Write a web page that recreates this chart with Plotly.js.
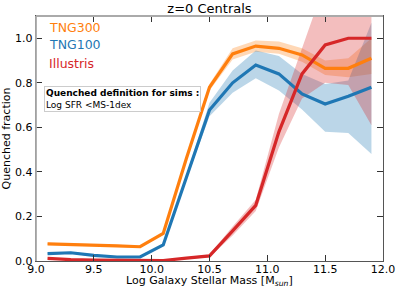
<!DOCTYPE html>
<html>
<head>
<meta charset="utf-8">
<script src="https://cdn.plot.ly/plotly-3.0.1.min.js"></script>
<style>
html,body{margin:0;padding:0;background:#fff;}
#chart{width:399px;height:291px;}
</style>
</head>
<body>
<div id="chart"></div>
<script>
// Bin centres (log stellar mass)
var mass = [9.1, 9.3, 9.5, 9.7, 9.9, 10.1, 10.3, 10.5, 10.7, 10.9, 11.1, 11.3, 11.5, 11.7, 11.9];

// TNG300
var tng300    = [0.077, 0.075, 0.073, 0.068, 0.064, 0.124, 0.46, 0.78, 0.93, 0.965, 0.955, 0.925, 0.865, 0.865, 0.91];
var tng300Lo  = [0.072, 0.070, 0.068, 0.063, 0.059, 0.118, 0.45, 0.765, 0.905, 0.94, 0.93, 0.895, 0.835, 0.825, 0.84];
var tng300Hi  = [0.082, 0.080, 0.078, 0.073, 0.069, 0.130, 0.47, 0.795, 0.955, 0.99, 0.985, 0.955, 0.90, 0.91, 1.0];

// TNG100
var tng100    = [0.033, 0.037, 0.025, 0.018, 0.018, 0.072, 0.375, 0.678, 0.80, 0.88, 0.84, 0.75, 0.705, 0.74, 0.78];
var tng100Lo  = [0.029, 0.033, 0.021, 0.015, 0.015, 0.066, 0.365, 0.65, 0.755, 0.82, 0.765, 0.68, 0.58, 0.575, 0.48];
var tng100Hi  = [0.037, 0.041, 0.029, 0.021, 0.021, 0.078, 0.385, 0.71, 0.855, 0.945, 0.92, 0.84, 0.795, 0.81, 1.07];

// Illustris
var illustris   = [0.012, 0.006, 0.004, 0.003, 0.002, 0.002, 0.013, 0.023, 0.135, 0.25, 0.58, 0.84, 0.97, 1.0, 1.0];
var illustrisLo = [0.008, 0.003, 0.002, 0.001, 0.000, 0.000, 0.009, 0.017, 0.115, 0.225, 0.51, 0.73, 0.80, 0.79, 0.61];
var illustrisHi = [0.016, 0.009, 0.006, 0.005, 0.004, 0.004, 0.017, 0.029, 0.155, 0.275, 0.66, 0.96, 1.25, 1.25, 1.25];

var seriesNames  = ['TNG300', 'TNG100', 'Illustris'];
var seriesColors = ['#ff7f0e', '#1f77b4', '#d62728'];
var bandColors   = ['rgba(255,127,14,0.3)', 'rgba(31,119,180,0.3)', 'rgba(214,39,40,0.3)'];
var xTicks = [9.0, 9.5, 10.0, 10.5, 11.0, 11.5, 12.0];
var yTicks = [0.0, 0.2, 0.4, 0.6, 0.8, 1.0];

var mids = [tng300, tng100, illustris];
var los  = [tng300Lo, tng100Lo, illustrisLo];
var his  = [tng300Hi, tng100Hi, illustrisHi];

var traces = [];
for (var i = 0; i < 3; i++) {
  traces.push({
    x: mass.concat(mass.slice().reverse()),
    y: his[i].concat(los[i].slice().reverse()),
    type: 'scatter', mode: 'lines', fill: 'toself',
    fillcolor: bandColors[i], line: {width: 0, color: 'rgba(0,0,0,0)'},
    hoverinfo: 'skip', showlegend: false
  });
}
for (var j = 0; j < 3; j++) {
  traces.push({
    x: mass, y: mids[j], type: 'scatter', mode: 'lines',
    line: {color: seriesColors[j], width: 3.2}, name: seriesNames[j], showlegend: false
  });
}

var font = 'DejaVu Sans, sans-serif';
var layout = {
  width: 399, height: 291,
  margin: {l: 36, r: 16, t: 16, b: 30, pad: 0},
  paper_bgcolor: '#fff', plot_bgcolor: '#fff',
  font: {family: font, size: 11, color: '#000'},
  showlegend: false,
  title: {text: 'z=0 Centrals', font: {family: font, size: 13, color: '#000'},
          x: 0.525, xanchor: 'center', y: 0.97, yanchor: 'middle'},
  xaxis: {
    range: [9.0, 12.0], tickvals: xTicks, ticktext: xTicks.map(function(v){return v.toFixed(1);}),
    ticks: 'inside', ticklen: 6, tickwidth: 1, tickcolor: '#333',
    showline: true, linecolor: '#555', linewidth: 1.3, mirror: 'ticks',
    showgrid: false, zeroline: false, ticklabelstandoff: -3,
    tickfont: {family: font, size: 11, color: '#000'}
  },
  yaxis: {
    range: [0, 1.1], tickvals: yTicks, ticktext: yTicks.map(function(v){return v.toFixed(1);}),
    ticks: 'inside', ticklen: 6, tickwidth: 1, tickcolor: '#333',
    showline: true, linecolor: '#555', linewidth: 1.3, mirror: 'ticks',
    showgrid: false, zeroline: false,
    tickfont: {family: font, size: 11, color: '#000'},
    title: {text: 'Quenched fraction', font: {family: font, size: 11, color: '#000'}, standoff: 2}
  },
  shapes: [
    {type: 'line', xref: 'paper', yref: 'paper', x0: 0, x1: 0, y0: 0, y1: 1, line: {color: '#aaaaaa', width: 1.8}, layer: 'above'},
    {type: 'line', xref: 'paper', yref: 'paper', x0: 0, x1: 1, y0: 1, y1: 1, line: {color: '#aaaaaa', width: 1.8}, layer: 'above'}
  ],
  annotations: [
    {text: seriesNames[0], xref: 'paper', yref: 'paper', x: 0.033, y: 0.955, xanchor: 'left', yanchor: 'middle', showarrow: false, font: {family: font, size: 12.5, color: seriesColors[0]}},
    {text: seriesNames[1], xref: 'paper', yref: 'paper', x: 0.033, y: 0.884, xanchor: 'left', yanchor: 'middle', showarrow: false, font: {family: font, size: 12.5, color: seriesColors[1]}},
    {text: seriesNames[2], xref: 'paper', yref: 'paper', x: 0.033, y: 0.808, xanchor: 'left', yanchor: 'middle', showarrow: false, font: {family: font, size: 12.5, color: seriesColors[2]}},
    {text: '<b>Quenched definition for sims :</b><br>Log SFR &lt;MS-1dex', xref: 'paper', yref: 'paper',
     x: 0.022, y: 0.714, xanchor: 'left', yanchor: 'top', align: 'left', showarrow: false,
     bordercolor: '#cccccc', borderwidth: 1, borderpad: 1, bgcolor: 'rgba(255,255,255,0.8)',
     font: {family: font, size: 9, color: '#000'}},
    {text: 'Log Galaxy Stellar Mass [M<sub><i>sun</i></sub>]', xref: 'paper', yref: 'paper',
     x: 0.5, y: -0.082, xanchor: 'center', yanchor: 'middle', showarrow: false,
     font: {family: font, size: 11, color: '#000'}}
  ]
};

Plotly.newPlot('chart', traces, layout, {displayModeBar: false, staticPlot: true});
</script>
</body>
</html>
